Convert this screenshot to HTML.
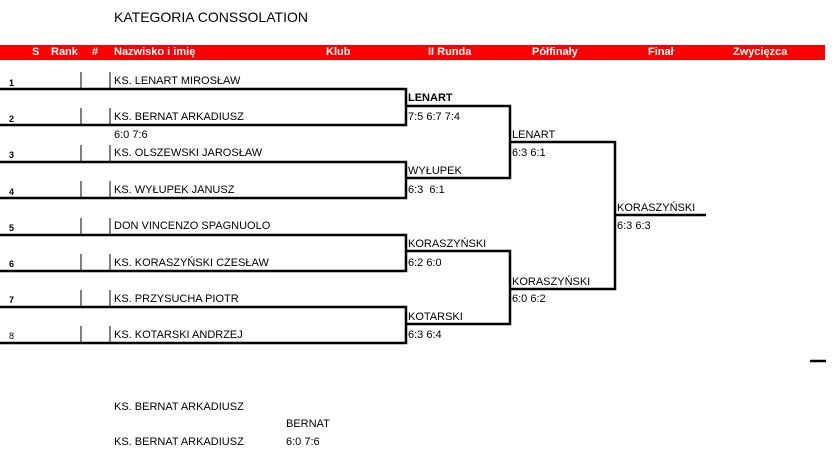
<!DOCTYPE html>
<html><head><meta charset="utf-8"><style>
body{margin:0;width:834px;height:475px;background:#fff;position:relative;overflow:hidden;font-family:"Liberation Sans",sans-serif;}
.t{position:absolute;font-size:11px;color:#000;white-space:nowrap;line-height:12px;}
.h{position:absolute;font-size:11px;color:#fff;font-weight:bold;top:46px;line-height:12px;white-space:nowrap;}
.n{position:absolute;font-size:9px;font-weight:bold;line-height:10px;}
svg{position:absolute;left:0;top:0;}
</style></head><body>
<div class="t" style="left:114px;top:9px;font-size:14px;line-height:16px;">KATEGORIA CONSSOLATION</div>
<div style="position:absolute;left:0;top:45px;width:825px;height:15px;background:#f00;"></div>
<div class="h" style="left:32px">S</div>
<div class="h" style="left:51px">Rank</div>
<div class="h" style="left:92px">#</div>
<div class="h" style="left:114px">Nazwisko i imię</div>
<div class="h" style="left:326px">Klub</div>
<div class="h" style="left:428px">II Runda</div>
<div class="h" style="left:532px">Półfinały</div>
<div class="h" style="left:648px">Finał</div>
<div class="h" style="left:733px">Zwycięzca</div>
<svg width="834" height="475">
<g stroke="#000" stroke-width="1">
<line x1="81" y1="72" x2="81" y2="89"/><line x1="81" y1="108" x2="81" y2="125"/>
<line x1="81" y1="145" x2="81" y2="162"/><line x1="81" y1="181" x2="81" y2="198"/>
<line x1="81" y1="218" x2="81" y2="235"/><line x1="81" y1="254" x2="81" y2="271"/>
<line x1="81" y1="290" x2="81" y2="307"/><line x1="81" y1="326" x2="81" y2="343"/>
<line x1="110" y1="72" x2="110" y2="89"/><line x1="110" y1="108" x2="110" y2="125"/>
<line x1="110" y1="145" x2="110" y2="162"/><line x1="110" y1="181" x2="110" y2="198"/>
<line x1="110" y1="218" x2="110" y2="235"/><line x1="110" y1="254" x2="110" y2="271"/>
<line x1="110" y1="290" x2="110" y2="307"/><line x1="110" y1="326" x2="110" y2="343"/>
</g>
<g stroke="#000" stroke-width="2.5" fill="none">
<polyline points="0,89 406,89 406,125 0,125"/>
<polyline points="0,162 406,162 406,198 0,198"/>
<polyline points="0,235 406,235 406,271 0,271"/>
<polyline points="0,307 406,307 406,343 0,343"/>
<polyline points="406,106 510,106 510,178 406,178"/>
<polyline points="406,251 510,251 510,324 406,324"/>
<polyline points="510,142 615,142 615,289 510,289"/>
<line x1="615" y1="215" x2="706" y2="215"/>
<line x1="810" y1="361" x2="826" y2="361"/>
</g>
</svg>
<div class="n" style="left:9px;top:78px">1</div>
<div class="n" style="left:9px;top:114px">2</div>
<div class="n" style="left:9px;top:150px">3</div>
<div class="n" style="left:9px;top:187px">4</div>
<div class="n" style="left:9px;top:223px">5</div>
<div class="n" style="left:9px;top:259px">6</div>
<div class="n" style="left:9px;top:295px">7</div>
<div class="n" style="left:9px;top:331px;font-weight:normal">8</div>
<div class="t" style="left:114px;top:75px">KS. LENART MIROSŁAW</div>
<div class="t" style="left:114px;top:111px">KS. BERNAT ARKADIUSZ</div>
<div class="t" style="left:114px;top:129px">6:0 7:6</div>
<div class="t" style="left:114px;top:147px">KS. OLSZEWSKI JAROSŁAW</div>
<div class="t" style="left:114px;top:184px">KS. WYŁUPEK JANUSZ</div>
<div class="t" style="left:114px;top:220px">DON VINCENZO SPAGNUOLO</div>
<div class="t" style="left:114px;top:257px">KS. KORASZYŃSKI CZESŁAW</div>
<div class="t" style="left:114px;top:293px">KS. PRZYSUCHA PIOTR</div>
<div class="t" style="left:114px;top:329px">KS. KOTARSKI ANDRZEJ</div>
<div class="t" style="left:408px;top:92px;font-weight:bold">LENART</div>
<div class="t" style="left:408px;top:111px">7:5 6:7 7:4</div>
<div class="t" style="left:408px;top:165px">WYŁUPEK</div>
<div class="t" style="left:408px;top:184px">6:3&nbsp; 6:1</div>
<div class="t" style="left:408px;top:238px">KORASZYŃSKI</div>
<div class="t" style="left:408px;top:257px">6:2 6:0</div>
<div class="t" style="left:408px;top:311px">KOTARSKI</div>
<div class="t" style="left:408px;top:329px">6:3 6:4</div>
<div class="t" style="left:512px;top:129px">LENART</div>
<div class="t" style="left:512px;top:147px">6:3 6:1</div>
<div class="t" style="left:512px;top:276px">KORASZYŃSKI</div>
<div class="t" style="left:512px;top:293px">6:0 6:2</div>
<div class="t" style="left:617px;top:202px">KORASZYŃSKI</div>
<div class="t" style="left:617px;top:220px">6:3 6:3</div>
<div class="t" style="left:114px;top:401px">KS. BERNAT ARKADIUSZ</div>
<div class="t" style="left:286px;top:418px">BERNAT</div>
<div class="t" style="left:114px;top:436px">KS. BERNAT ARKADIUSZ</div>
<div class="t" style="left:286px;top:436px">6:0 7:6</div>
</body></html>
